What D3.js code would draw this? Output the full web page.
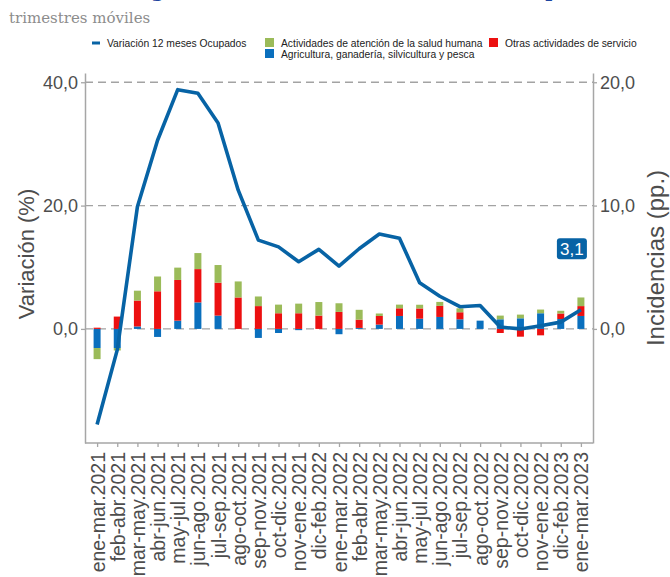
<!DOCTYPE html>
<html>
<head>
<meta charset="utf-8">
<script src="https://cdn.jsdelivr.net/npm/d3@7"></script>
<style>
  body { margin: 0; background: #fff; }
  text { font-family: "Liberation Sans", Arial, sans-serif; }
</style>
</head>
<body>
<div id="chart"></div>
<script>
// Trimestres moviles
const periodos = ["ene-mar.2021", "feb-abr.2021", "mar-may.2021", "abr-jun.2021", "may-jul.2021",
  "jun-ago.2021", "jul-sep.2021", "ago-oct.2021", "sep-nov.2021", "oct-dic.2021", "nov-ene.2021",
  "dic-feb.2022", "ene-mar.2022", "feb-abr.2022", "mar-may.2022", "abr-jun.2022", "may-jul.2022",
  "jun-ago.2022", "jul-sep.2022", "ago-oct.2022", "sep-nov.2022", "oct-dic.2022", "nov-ene.2022",
  "dic-feb.2023", "ene-mar.2023"];

// Variacion 12 meses ocupados (%), eje izquierdo
const ocupados = [-15.5, -3.4, 19.8, 30.6, 38.8, 38.2, 33.4, 22.5, 14.4, 13.3, 10.9, 12.9,
  10.2, 13.0, 15.4, 14.7, 7.5, 5.3, 3.6, 3.8, 0.3, 0.0, 0.5, 1.1, 3.1];

// Incidencias (pp.), eje derecho
const agricultura = [-1.55, -1.55, 0.2, -0.65, 0.67, 2.15, 1.08, 0.0, -0.73, -0.33, -0.1, 0.0,
  -0.43, 0.08, 0.35, 1.05, 0.83, 0.97, 0.78, 0.67, 0.78, 0.86, 1.27, 0.8, 1.05];
const otrasServicios = [0.1, 1.0, 2.1, 3.05, 3.3, 2.7, 2.67, 2.55, 1.85, 1.27, 1.27, 1.08,
  1.38, 0.67, 0.7, 0.62, 0.83, 0.9, 0.57, 0.0, -0.33, -0.63, -0.52, 0.45, 0.8];
const saludHumana = [-0.9, -0.2, 0.8, 1.2, 1.0, 1.3, 1.43, 1.3, 0.78, 0.7, 0.78, 1.1,
  0.7, 0.8, 0.2, 0.3, 0.3, 0.32, 0.32, 0.0, 0.3, 0.3, 0.3, 0.22, 0.7];

const ticksIzq = [0, 20, 40];
const ticksDer = [0, 10, 20];

const width = 670, height = 577;
const panel = { left: 85, right: 593, top: 73, bottom: 443 };

const azulLinea = "#0763a5";
const colores = { agricultura: "#0a6fbd", otras: "#ec1010", salud: "#9bbb59" };
const gris = "#a6a6a6";
const grisTexto = "#4d4d4d";

const svg = d3.select("#chart").append("svg")
  .attr("width", width)
  .attr("height", height);

const x = d3.scalePoint().domain(periodos).range([panel.left, panel.right]).padding(0.6);
const yIzq = d3.scaleLinear().domain([-18.5, 41.5]).range([panel.bottom, panel.top]);
const yDer = d3.scaleLinear().domain([-9.25, 20.75]).range([panel.bottom, panel.top]);

const fmt = d => d3.format(".1f")(d).replace(".", ",");

// Titulo (cortado arriba en el original) y subtitulo
svg.append("text")
  .attr("x", 10).attr("y", -3)
  .style("font-family", "'DejaVu Serif', serif")
  .style("font-weight", "bold")
  .style("font-size", "19px")
  .style("fill", "#1d45a0")
  .text("Incidencia según rama en la variación total, en la población");

svg.append("text")
  .attr("x", 9).attr("y", 23)
  .style("font-family", "'DejaVu Serif', serif")
  .style("font-size", "15px")
  .style("fill", "#8c8c8c")
  .text("trimestres móviles");

// Lineas de grilla
svg.append("g").selectAll("line")
  .data(ticksIzq)
  .join("line")
  .attr("x1", panel.left).attr("x2", panel.right)
  .attr("y1", d => yIzq(d)).attr("y2", d => yIzq(d))
  .attr("stroke", "#a3a3a3")
  .attr("stroke-width", 1.3)
  .attr("stroke-dasharray", "8,5");

// Barras apiladas
const filas = periodos.map((p, i) => ({
  periodo: p,
  agricultura: agricultura[i],
  otras: otrasServicios[i],
  salud: saludHumana[i]
}));
const stack = d3.stack()
  .keys(["agricultura", "otras", "salud"])
  .offset(d3.stackOffsetDiverging);
const capas = stack(filas);
const anchoBarra = 7;

svg.append("g").selectAll("g")
  .data(capas)
  .join("g")
  .attr("fill", d => colores[d.key])
  .selectAll("rect")
  .data(d => d)
  .join("rect")
  .attr("x", d => x(d.data.periodo) - anchoBarra / 2)
  .attr("width", anchoBarra)
  .attr("y", d => yDer(Math.max(d[0], d[1])))
  .attr("height", d => Math.abs(yDer(d[0]) - yDer(d[1])));

// Linea de variacion
const linea = d3.line()
  .x((d, i) => x(periodos[i]))
  .y(d => yIzq(d));

svg.append("path")
  .datum(ocupados)
  .attr("fill", "none")
  .attr("stroke", azulLinea)
  .attr("stroke-width", 3.6)
  .attr("stroke-linejoin", "round")
  .attr("d", linea);

// Etiqueta del ultimo valor
const ultimo = ocupados.length - 1;
const etiqueta = svg.append("g")
  .attr("transform", "translate(" + (x(periodos[ultimo]) - 9) + "," + yIzq(13) + ")");
etiqueta.append("rect")
  .attr("x", -15).attr("y", -10.5)
  .attr("width", 30).attr("height", 21)
  .attr("rx", 3)
  .attr("fill", azulLinea);
etiqueta.append("text")
  .attr("text-anchor", "middle")
  .attr("dy", "0.36em")
  .style("font-size", "17px")
  .style("fill", "#fff")
  .text(fmt(ocupados[ultimo]));

// Ejes
function estiloEje(g, size) {
  g.select(".domain").attr("stroke", gris).attr("stroke-width", 1.5);
  g.selectAll(".tick line").attr("stroke", gris).attr("stroke-width", 1.3);
  g.selectAll(".tick text").style("font-size", size).style("fill", grisTexto)
    .style("font-family", "'Liberation Sans', Arial, sans-serif");
}

svg.append("g")
  .attr("transform", "translate(" + panel.left + ",0)")
  .call(d3.axisLeft(yIzq).tickValues(ticksIzq).tickFormat(fmt).tickSize(4).tickSizeOuter(0).tickPadding(3))
  .call(estiloEje, "18px");

svg.append("g")
  .attr("transform", "translate(" + panel.right + ",0)")
  .call(d3.axisRight(yDer).tickValues(ticksDer).tickFormat(fmt).tickSize(4).tickSizeOuter(0).tickPadding(3))
  .call(estiloEje, "18px");

const ejeX = svg.append("g")
  .attr("transform", "translate(0," + panel.bottom + ")")
  .call(d3.axisBottom(x).tickSize(4).tickSizeOuter(0))
  .call(estiloEje, "19.5px");
ejeX.select(".domain").attr("d", "M" + panel.left + ",0H" + panel.right);
ejeX.selectAll(".tick text")
  .attr("transform", "rotate(-90)")
  .attr("text-anchor", "end")
  .attr("x", -9)
  .attr("y", 0)
  .attr("dy", "0.36em");

// Titulos de ejes
const centroY = (panel.top + panel.bottom) / 2;
svg.append("text")
  .attr("transform", "translate(34," + (centroY - 4) + ") rotate(-90)")
  .attr("text-anchor", "middle")
  .style("font-size", "22px")
  .style("fill", grisTexto)
  .text("Variación (%)");
svg.append("text")
  .attr("transform", "translate(664," + centroY + ") rotate(-90)")
  .attr("text-anchor", "middle")
  .style("font-size", "24px")
  .style("fill", grisTexto)
  .text("Incidencias (pp.)");

// Leyenda
const leyenda = svg.append("g").style("font-size", "10.3px").style("fill", "#222");
leyenda.append("line")
  .attr("x1", 92).attr("x2", 100).attr("y1", 43).attr("y2", 43)
  .attr("stroke", azulLinea).attr("stroke-width", 3);
leyenda.append("text").attr("x", 107).attr("y", 46.5).text("Variación 12 meses Ocupados");

const itemsLeyenda = [
  { x: 265, y: 38, color: colores.salud, texto: "Actividades de atención de la salud humana" },
  { x: 489, y: 38, color: colores.otras, texto: "Otras actividades de servicio" },
  { x: 265, y: 49, color: colores.agricultura, texto: "Agricultura, ganadería, silvicultura y pesca" }
];
itemsLeyenda.forEach(d => {
  leyenda.append("rect").attr("x", d.x).attr("y", d.y).attr("width", 9).attr("height", 9).attr("fill", d.color);
  leyenda.append("text").attr("x", d.x + 16).attr("y", d.y + 8.5).text(d.texto);
});
</script>
</body>
</html>
